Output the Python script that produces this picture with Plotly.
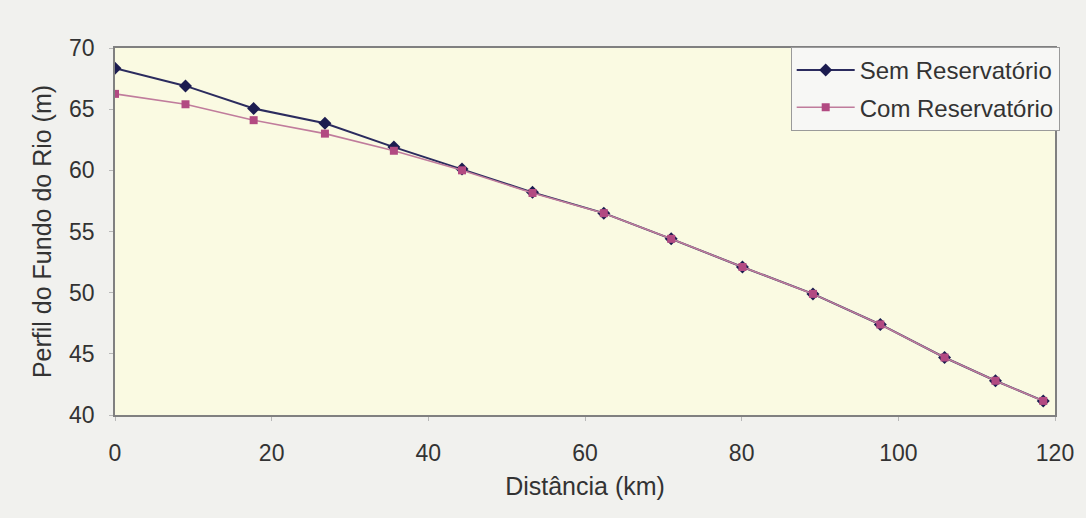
import plotly.graph_objects as go

distancia_km = [0, 9.0, 17.7, 26.8, 35.6, 44.3, 53.3, 62.4, 71.0, 80.1, 89.1, 97.7, 105.9, 112.4, 118.5]
sem_reservatorio = [68.35, 66.9, 65.05, 63.85, 61.9, 60.1, 58.2, 56.5, 54.4, 52.1, 49.9, 47.4, 44.7, 42.8, 41.15]
com_reservatorio = [66.25, 65.4, 64.1, 63.0, 61.6, 60.0, 58.15, 56.5, 54.4, 52.1, 49.9, 47.4, 44.7, 42.8, 41.15]

x_ticks = [0, 20, 40, 60, 80, 100, 120]
y_ticks = [40, 45, 50, 55, 60, 65, 70]

fig = go.Figure()
fig.add_trace(go.Scatter(
    x=distancia_km, y=sem_reservatorio, mode="lines+markers",
    name="Sem Reservatório", legendgroup="sem",
    line=dict(color="#2b2b5e", width=2),
    marker=dict(symbol="diamond", size=10, color="#1c1c50"),
))
fig.add_trace(go.Scatter(
    x=distancia_km, y=com_reservatorio, mode="lines+markers",
    name="Com Reservatório", legendgroup="com",
    line=dict(color="#c07c9c", width=1.6),
    marker=dict(symbol="square", size=8, color="#b24a82"),
))

font_family = "Liberation Sans, Arial, sans-serif"
fig.update_layout(
    width=1086, height=518,
    margin=dict(l=115, r=28, t=48, b=103),
    paper_bgcolor="#f1f1ee",
    plot_bgcolor="#fafae2",
    font=dict(family=font_family, size=22, color="#333333"),
    showlegend=True,
    legend=dict(
        x=1.005, y=1.003, xanchor="right", yanchor="top",
        bgcolor="#f7f7f5", bordercolor="#9a9a9a", borderwidth=1,
        font=dict(size=24, color="#333333"),
        tracegroupgap=3, itemwidth=58,
    ),
    xaxis=dict(
        range=[0, 120], tickvals=x_ticks, showgrid=False, zeroline=False,
        showline=True, linecolor="#808080", linewidth=1.5, mirror=True,
        ticks="outside", ticklen=4, tickcolor="#b8b8b8",
        ticklabelstandoff=13,
        title=dict(text="Distância (km)", font=dict(size=25), standoff=12),
        tickfont=dict(size=23),
    ),
    yaxis=dict(
        range=[40, 70], tickvals=y_ticks, showgrid=False, zeroline=False,
        showline=True, linecolor="#808080", linewidth=1.5, mirror=True,
        ticks="outside", ticklen=4, tickcolor="#b8b8b8",
        ticklabelstandoff=10,
        title=dict(text="Perfil do Fundo do Rio (m)", font=dict(size=25), standoff=10),
        tickfont=dict(size=23),
    ),
)

fig.write_html("out.html")
